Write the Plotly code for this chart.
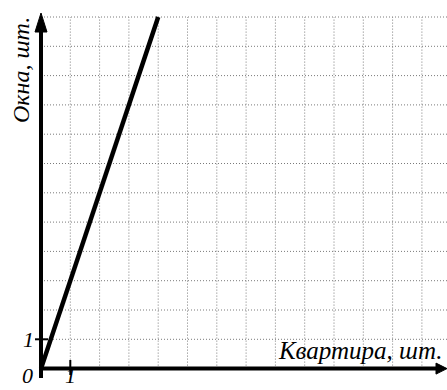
import plotly.graph_objects as go

# Data: number of windows vs. number of apartments
apartments = [0, 4]
windows = [0, 12]

# Grid extent (units)
grid_x_max = 14
grid_y_max = 12

# Axis captions and tick labels
x_title = "Квартира, шт."
y_title = "Окна, шт."
origin_label = "0"
x_tick_label = "1"
y_tick_label = "1"

# Canvas geometry
W, H = 447, 390
ox, oy = 41.0, 368.6          # origin in pixels
unit = 29.3                   # pixels per unit

x_range = [-ox / unit, (W - ox) / unit]
y_range = [-(H - oy) / unit, oy / unit]


def ux(px):
    return (px - ox) / unit


def uy(py):
    return (oy - py) / unit


grid_style = dict(color="#7a7a7a", width=1, dash="1px,2px")
shapes = []
for i in range(1, grid_x_max + 1):
    shapes.append(dict(type="line", xref="x", yref="y", x0=i, x1=i, y0=0, y1=grid_y_max,
                       line=grid_style, layer="below"))
for j in range(1, grid_y_max + 1):
    shapes.append(dict(type="line", xref="x", yref="y", x0=0, x1=x_range[1], y0=j, y1=j,
                       line=grid_style, layer="below"))

axis_style = dict(color="black", width=4)
# y axis (extends slightly below origin) and x axis
shapes.append(dict(type="line", xref="x", yref="y", x0=0, x1=0, y0=uy(378), y1=uy(30),
                   line=axis_style, layer="above"))
shapes.append(dict(type="line", xref="x", yref="y", x0=ux(39), x1=ux(438), y0=0, y1=0,
                   line=axis_style, layer="above"))
# arrow heads
shapes.append(dict(type="path", xref="x", yref="y",
                   path=f"M {ux(ox - 6)} {uy(32)} L {ux(ox)} {uy(13)} L {ux(ox + 6)} {uy(32)} Z",
                   fillcolor="black", line=dict(color="black", width=1), layer="above"))
shapes.append(dict(type="path", xref="x", yref="y",
                   path=f"M {ux(436)} {uy(oy - 5.5)} L {ux(447)} {uy(oy)} L {ux(436)} {uy(oy + 5.5)} Z",
                   fillcolor="black", line=dict(color="black", width=1), layer="above"))
# unit ticks
tick_style = dict(color="black", width=2)
shapes.append(dict(type="line", xref="x", yref="y", x0=1, x1=1, y0=uy(360), y1=uy(375),
                   line=tick_style, layer="above"))
shapes.append(dict(type="line", xref="x", yref="y", x0=ux(35), x1=ux(48), y0=1, y1=1,
                   line=tick_style, layer="above"))

font_x = dict(family="Liberation Serif", size=25, color="black", style="italic")
font_y = dict(family="Liberation Serif", size=24, color="black", style="italic")
font_n = dict(family="Liberation Serif", size=22, color="black", style="italic")
annotations = [
    dict(x=ux(360), y=uy(350), text=x_title, showarrow=False, font=font_x,
         xanchor="center", yanchor="middle"),
    dict(x=ux(21), y=uy(70), text=y_title, showarrow=False, font=font_y, textangle=-90,
         xanchor="center", yanchor="middle"),
    dict(x=ux(27), y=uy(390), text=origin_label, showarrow=False, font=font_n,
         xanchor="center", yanchor="bottom"),
    dict(x=1, y=uy(390), text=x_tick_label, showarrow=False, font=font_n,
         xanchor="center", yanchor="bottom"),
    dict(x=ux(28), y=1, text=y_tick_label, showarrow=False, font=font_n,
         xanchor="center", yanchor="middle"),
]

fig = go.Figure()
fig.add_trace(go.Scatter(x=apartments, y=windows, mode="lines",
                         line=dict(color="black", width=4.5), hoverinfo="skip"))

fig.update_layout(
    width=W, height=H,
    margin=dict(l=0, r=0, t=0, b=0),
    paper_bgcolor="white", plot_bgcolor="white",
    showlegend=False,
    xaxis=dict(range=x_range, visible=False, fixedrange=True),
    yaxis=dict(range=y_range, visible=False, fixedrange=True),
    shapes=shapes,
    annotations=annotations,
)

fig.write_html("out.html", config={"displayModeBar": False})
